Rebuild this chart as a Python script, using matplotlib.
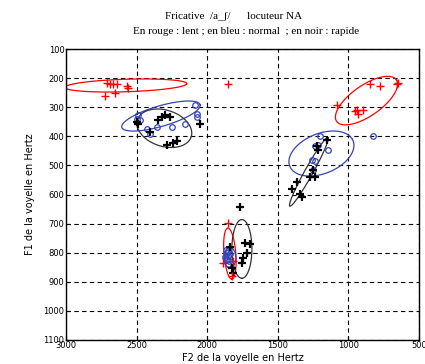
import numpy as np
import matplotlib
matplotlib.use("Agg")
import matplotlib.pyplot as plt

# ---- data (F2, F1) in Hz ----
red_f2 = [2724, 2710, 2688, 2667, 2639, 2653, 2568, 2561, 1853,
          1081, 954, 933, 897, 848, 777, 657, 649, 940,
          1853, 1888, 1818, 1825]
red_f1 = [262, 217, 220, 220, 220, 252, 228, 235, 220,
          291, 312, 323, 308, 220, 227, 220, 217, 308,
          697, 835, 828, 881]

blue_f2 = [2490, 2476, 2427, 2405, 2356, 2250, 2157, 2087, 2073, 2073, 2497,
           1202, 1216, 1145, 1258, 1237, 1251, 826, 1237,
           1870, 1860, 1850, 1865, 1845, 1855, 1875, 1840, 1860, 1850]
blue_f1 = [326, 344, 376, 393, 369, 369, 358, 291, 323, 333, 340,
           397, 429, 446, 482, 485, 517, 397, 432,
           790, 800, 810, 820, 830, 840, 815, 805, 825, 795]

black_f2 = [2497, 2490, 2349, 2320, 2299, 2264, 2242, 2214, 2285, 2051, 2405,
            1152, 1223, 1216, 1251, 1237, 1273, 1365, 1400, 1343, 1329,
            1768, 1733, 1697, 1719, 1747, 1754, 1839, 1825, 1818]
black_f1 = [351, 358, 344, 333, 326, 333, 422, 415, 429, 358, 386,
            414, 432, 446, 517, 538, 538, 556, 581, 598, 609,
            644, 768, 771, 800, 817, 835, 782, 853, 870]

# ellipses: center (cx, cy), conjugate semi-diameters u, v (data units)
red_ell = [(2575, 225, -430, -5, 30, 22),
           (872, 277, -212, -71, -59, 44),
           (1839, 803, -14, 88, -42, 0)]
blue_ell = [(2327, 330, -277, -39, -19, 34),
            (1191, 459, -219, -49, -71, 60),
            (1839, 817, 0, 35, -42, 0)]
black_ell = [(2303, 372, -191, 28, 35, 60),
             (1280, 522, -135, -118, -25, 7),
             (1754, 787, 0, 101, -71, 0)]

xticks = [3000, 2500, 2000, 1500, 1000, 500]
yticks = [100, 200, 300, 400, 500, 600, 700, 800, 900, 1000, 1100]

fig = plt.figure(figsize=(4.25, 3.64), dpi=100)
ax = fig.add_axes([0.155, 0.066, 0.831, 0.799])

t = np.linspace(0, 2 * np.pi, 200)
def draw_ell(params, color):
    for cx, cy, ux, uy, vx, vy in params:
        ax.plot(cx + ux * np.cos(t) + vx * np.sin(t),
                cy + uy * np.cos(t) + vy * np.sin(t), color=color, lw=0.9)

draw_ell(red_ell, 'red')
draw_ell(blue_ell, '#3344bb')
draw_ell(black_ell, '#333333')

ax.plot(blue_f2, blue_f1, 'o', ms=4, mfc='none', mec='#3344bb', mew=0.9, ls='none')
ax.plot(black_f2, black_f1, '+', ms=5.5, color='black', mew=1.6, ls='none')
ax.plot(red_f2, red_f1, '+', ms=6, color='red', mew=1.0, ls='none')

ax.set_xlim(3000, 500)
ax.set_ylim(1100, 100)
ax.set_xticks(xticks)
ax.set_yticks(yticks)
ax.tick_params(direction='in', length=3, labelsize=6, pad=1)
ax.grid(True, color='black', linestyle=(0, (4, 3)), linewidth=0.8)
for s in ax.spines.values():
    s.set_linewidth(1.0)

ax.set_xlabel('F2 de la voyelle en Hertz', fontsize=7, labelpad=2)
ax.set_ylabel('F1 de la voyelle en Hertz', fontsize=7, labelpad=6)
fig.text(0.55, 0.955, 'Fricative  /a_ʃ/      locuteur NA', ha='center',
         va='center', fontsize=8, family='Liberation Serif')
fig.text(0.58, 0.913, 'En rouge : lent ; en bleu : normal  ; en noir : rapide',
         ha='center', va='center', fontsize=8, family='Liberation Serif')

fig.savefig('out.png', dpi=100)
